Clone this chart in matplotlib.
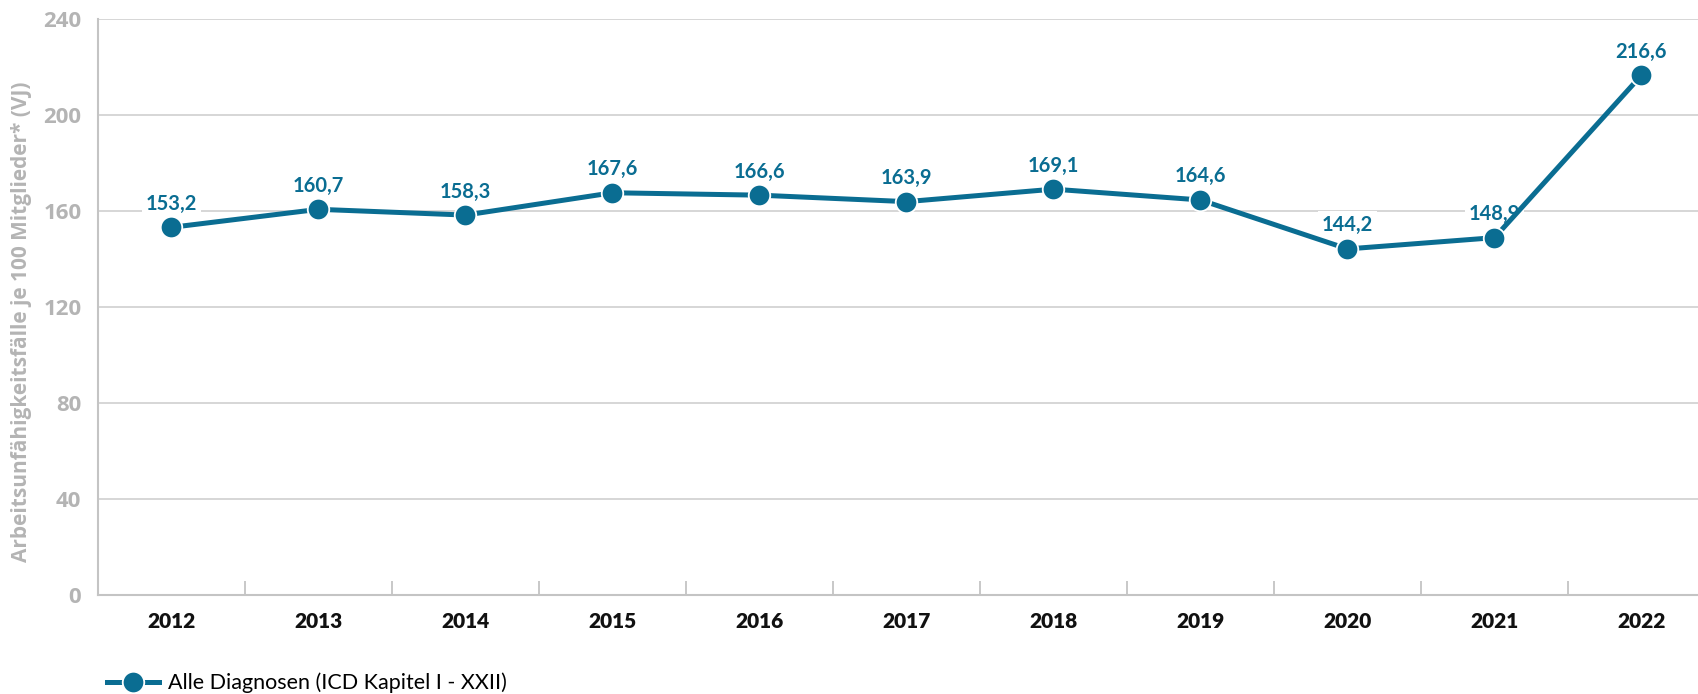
import matplotlib
matplotlib.use("Agg")
import matplotlib.pyplot as plt
from matplotlib.lines import Line2D

years = ["2012", "2013", "2014", "2015", "2016", "2017", "2018", "2019", "2020", "2021", "2022"]
values = [153.2, 160.7, 158.3, 167.6, 166.6, 163.9, 169.1, 164.6, 144.2, 148.9, 216.6]
yticks = [0, 40, 80, 120, 160, 200, 240]
ylabel = "Arbeitsunfähigkeitsfälle je 100 Mitglieder* (VJ)"
series_name = "Alle Diagnosen (ICD Kapitel I - XXII)"

blue = "#0a6d92"
grey_txt = "#b4b4b4"
grid_c = "#d3d3d3"

plt.rcParams["font.family"] = ["Lato", "DejaVu Sans"]

fig = plt.figure(figsize=(16.99, 6.94), dpi=100)
# axes runs a little past the right border, like the original crop
ax = fig.add_axes([98 / 1699, 1 - 595 / 694, 1617 / 1699, 576 / 694])

x = list(range(len(years)))
ax.plot(x, values, color=blue, lw=3.6, marker="o", ms=15.5,
        mfc=blue, mec="white", mew=1.3, zorder=4, clip_on=False)

# value labels sit on white boxes over the grid, under the line
for xi, v in zip(x, values):
    ax.annotate(f"{v:.1f}".replace(".", ","), (xi, v), xytext=(0, 17),
                textcoords="offset points", ha="center", va="center",
                fontsize=14.5, fontweight="bold", color=blue, zorder=3,
                bbox=dict(boxstyle="square,pad=0.2", fc="white", ec="none"))

ax.set_xlim(-0.5, len(years) - 0.5)
ax.set_ylim(0, 240)
ax.set_yticks(yticks)
ax.set_yticklabels([str(t) for t in yticks], fontsize=16, fontweight="bold",
                   color=grey_txt, family=["Open Sans", "DejaVu Sans"])
ax.tick_params(axis="y", length=0, pad=12)

ax.set_xticks(x)
ax.set_xticklabels(years, fontsize=15, fontweight="heavy", color="#111111")
ax.tick_params(axis="x", length=0, pad=12)
# separators between categories
ax.set_xticks([i + 0.5 for i in range(len(years) - 1)], minor=True)
ax.tick_params(axis="x", which="minor", direction="in", length=10,
               width=1.2, color="#bfbfbf")

ax.grid(axis="y", color=grid_c, lw=1.3, zorder=0)
ax.set_axisbelow(True)
for s in ["top", "right"]:
    ax.spines[s].set_visible(False)
for s in ["left", "bottom"]:
    ax.spines[s].set_color("#c4c4c4")
    ax.spines[s].set_linewidth(1.5)

ax.set_ylabel(ylabel, fontsize=15, fontweight="bold", color=grey_txt,
              family=["Open Sans", "DejaVu Sans"])
ax.yaxis.set_label_coords(-66 / 1617, (595 - 322) / 576)

handle = Line2D([], [], color=blue, lw=3.6, marker="o", ms=15.5,
                mfc=blue, mec="white", mew=1.3)
fig.legend([handle], [series_name], loc="center left",
           bbox_to_anchor=(88 / 1699, 1 - 683 / 694), frameon=False,
           fontsize=15.5, handlelength=2.4, handletextpad=0.4)

fig.savefig("out.png", dpi=100)
